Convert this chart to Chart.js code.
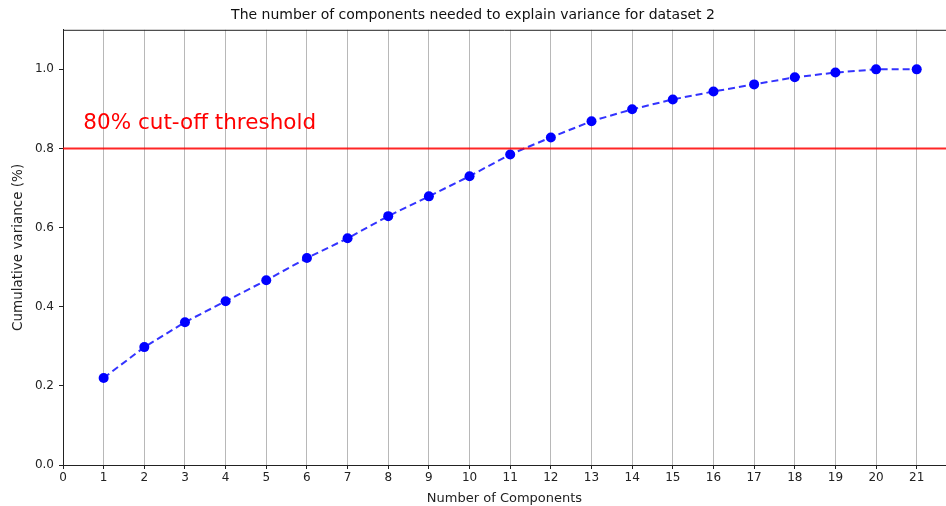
<!DOCTYPE html>
<html>
<head>
<meta charset="utf-8">
<script src="https://cdn.jsdelivr.net/npm/chart.js@4"></script>
<style>
  html, body { margin: 0; padding: 0; background: #fff; }
  #wrap { width: 946px; height: 506px; }
</style>
</head>
<body>
<div id="wrap"><canvas id="c" width="946" height="506"></canvas></div>
<script>
// Number of principal components and the cumulative explained variance ratio
const components = [1, 2, 3, 4, 5, 6, 7, 8, 9, 10, 11, 12, 13, 14, 15, 16, 17, 18, 19, 20, 21];
const cumulativeVariance = [0.220, 0.298, 0.361, 0.414, 0.467, 0.523, 0.573, 0.629, 0.679, 0.730,
                            0.785, 0.828, 0.869, 0.899, 0.924, 0.944, 0.962, 0.980, 0.992, 1.000, 1.000];
const xTickValues = [0, 1, 2, 3, 4, 5, 6, 7, 8, 9, 10, 11, 12, 13, 14, 15, 16, 17, 18, 19, 20, 21];
const yTickValues = [0.0, 0.2, 0.4, 0.6, 0.8, 1.0];
const threshold = 0.8;
const thresholdLabel = '80% cut-off threshold';
const thresholdLabelPos = [0.5, 0.85];

const FONT = 'DejaVu Sans, sans-serif';

// Horizontal cut-off line, its caption, and the top frame line
const overlay = {
  id: 'overlay',
  afterDatasetsDraw(chart) {
    const { ctx, chartArea: a, scales } = chart;
    ctx.save();
    // top spine
    ctx.strokeStyle = '#222';
    ctx.lineWidth = 1;
    ctx.beginPath();
    ctx.moveTo(a.left, a.top + 0.5);
    ctx.lineTo(a.right, a.top + 0.5);
    ctx.stroke();
    // threshold line
    const yPix = scales.y.getPixelForValue(threshold);
    ctx.strokeStyle = 'rgba(255,0,0,0.85)';
    ctx.lineWidth = 2;
    ctx.beginPath();
    ctx.moveTo(a.left, yPix);
    ctx.lineTo(a.right, yPix);
    ctx.stroke();
    // caption
    ctx.fillStyle = '#ff0000';
    ctx.font = '21.5px ' + FONT;
    ctx.textBaseline = 'alphabetic';
    ctx.textAlign = 'left';
    ctx.fillText(thresholdLabel,
      scales.x.getPixelForValue(thresholdLabelPos[0]),
      scales.y.getPixelForValue(thresholdLabelPos[1]));
    ctx.restore();
  }
};

new Chart(document.getElementById('c'), {
  type: 'line',
  data: {
    datasets: [{
      data: components.map((c, i) => ({ x: c, y: cumulativeVariance[i] })),
      borderColor: 'rgba(0,0,255,0.8)',
      borderWidth: 2,
      borderDash: [7, 4],
      pointRadius: 5,
      pointBackgroundColor: '#0000ff',
      pointBorderColor: '#0000ff',
      pointBorderWidth: 0,
      tension: 0,
      clip: false
    }]
  },
  options: {
    responsive: false,
    animation: false,
    layout: { autoPadding: false, padding: { left: 0, right: 0, top: 0, bottom: 0 } },
    plugins: {
      legend: { display: false },
      tooltip: { enabled: false },
      title: {
        display: true,
        text: 'The number of components needed to explain variance for dataset 2',
        color: '#111',
        font: { family: FONT, size: 14, weight: 'normal' },
        padding: { top: 7, bottom: 6 }
      }
    },
    scales: {
      x: {
        type: 'linear',
        min: 0,
        max: 21.72,
        afterBuildTicks(scale) { scale.ticks = xTickValues.map(v => ({ value: v })); },
        afterFit(scale) { scale.height = 41; },
        grid: { color: '#b8b8b8', lineWidth: 1, drawTicks: true, tickLength: 4, tickColor: '#222' },
        border: { display: true, color: '#222', width: 1 },
        ticks: {
          color: '#222',
          font: { family: FONT, size: 12 },
          padding: 2,
          maxRotation: 0,
          autoSkip: false,
          callback: v => String(v)
        },
        title: {
          display: true,
          text: 'Number of Components',
          color: '#222',
          font: { family: FONT, size: 13 },
          padding: { top: 0, bottom: 0 }
        }
      },
      y: {
        type: 'linear',
        min: 0,
        max: 1.1,
        afterBuildTicks(scale) { scale.ticks = yTickValues.map(v => ({ value: v })); },
        afterFit(scale) { scale.width = 63; },
        grid: { color: 'rgba(0,0,0,0)', drawTicks: true, tickLength: 4, tickColor: '#222' },
        border: { display: true, color: '#222', width: 1 },
        ticks: {
          color: '#222',
          font: { family: FONT, size: 12 },
          padding: 5,
          callback: v => Number(v).toFixed(1)
        },
        title: {
          display: true,
          text: 'Cumulative variance (%)',
          color: '#222',
          font: { family: FONT, size: 13.5 },
          padding: { top: 10, bottom: 4 }
        }
      }
    }
  },
  plugins: [overlay]
});
</script>
</body>
</html>
